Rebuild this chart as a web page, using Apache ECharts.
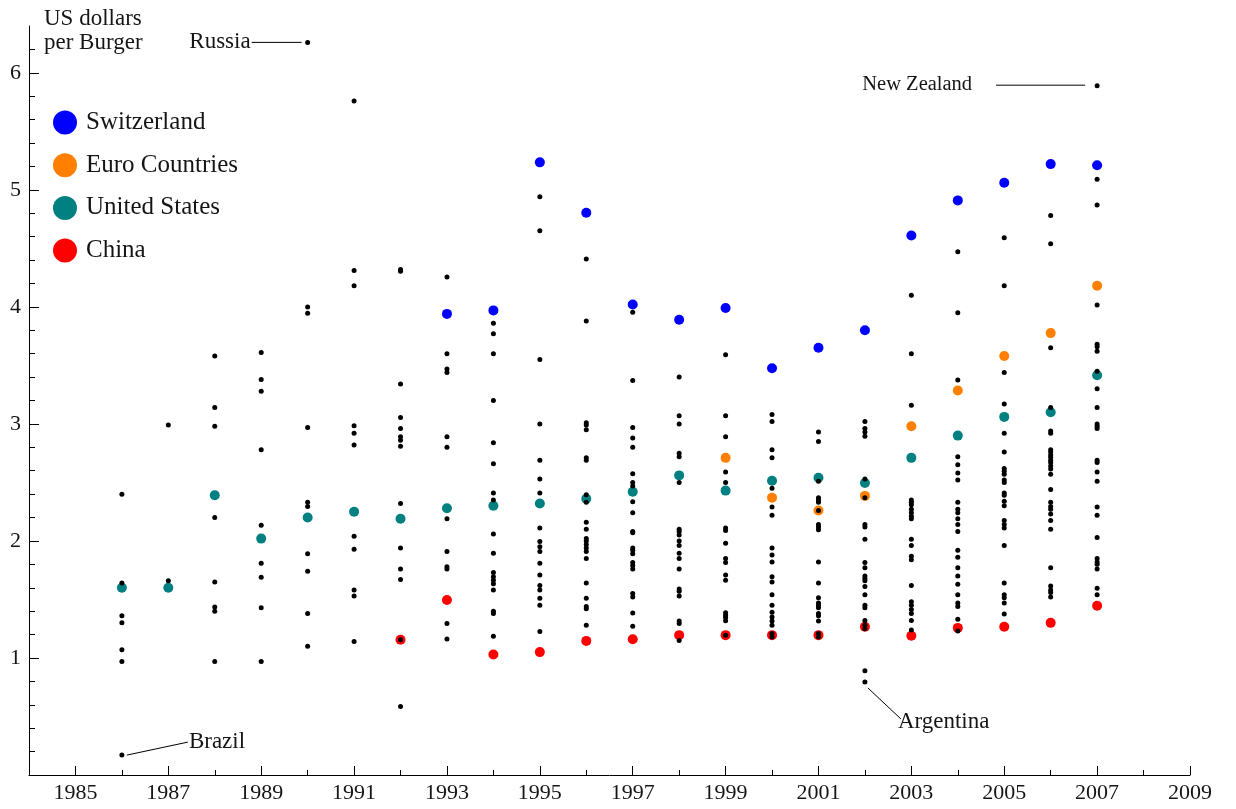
<!DOCTYPE html>
<html>
<head>
<meta charset="utf-8">
<title>Big Mac prices</title>
<script src="https://cdn.jsdelivr.net/npm/echarts@6/dist/echarts.min.js"></script>
<style>
  html, body { margin: 0; padding: 0; background: #fff; }
  #chart { width: 1236px; height: 809px; }
</style>
</head>
<body>
<div id="chart"></div>
<script>
// Burger price in US dollars, one column of countries per survey year
const years = [1986, 1987, 1988, 1989, 1990, 1991, 1992, 1993, 1994, 1995, 1996,
               1997, 1998, 1999, 2000, 2001, 2002, 2003, 2004, 2005, 2006, 2007];

const otherCountries = [
  [2.40, 1.64, 1.36, 1.30, 1.07, 0.97, 0.17],
  [2.99, 1.66],
  [3.58, 3.14, 2.98, 2.20, 1.65, 1.435, 1.40, 0.97],
  [3.61, 3.38, 3.28, 2.78, 2.135, 1.81, 1.69, 1.43, 0.97],
  [6.26, 4.00, 3.945, 2.97, 2.33, 2.295, 1.89, 1.74, 1.38, 1.10],
  [5.76, 4.31, 4.18, 2.985, 2.92, 2.82, 2.04, 1.93, 1.58, 1.53, 1.14],
  [4.32, 4.305, 3.34, 3.055, 2.96, 2.89, 2.86, 2.81, 2.32, 1.94, 1.76, 1.67, 1.155, 0.585],
  [4.256, 3.60, 3.47, 3.44, 2.89, 2.80, 2.19, 1.91, 1.78, 1.76, 1.295, 1.163],
  [3.86, 3.77, 3.60, 3.20, 2.84, 2.66, 2.41, 2.35, 2.06, 1.895, 1.73, 1.695, 1.665, 1.635, 1.58, 1.40, 1.38, 1.186],
  [4.94, 4.65, 3.55, 3.00, 2.69, 2.53, 2.41, 2.11, 1.995, 1.95, 1.91, 1.81, 1.71, 1.62, 1.58, 1.51, 1.45, 1.226],
  [4.41, 3.88, 3.01, 2.99, 2.95, 2.71, 2.69, 2.395, 2.33, 2.16, 2.10, 2.02, 2.00, 1.97, 1.94, 1.91, 1.85, 1.64, 1.51, 1.44, 1.42, 1.28],
  [3.955, 3.37, 2.97, 2.88, 2.80, 2.575, 2.50, 2.47, 2.335, 2.24, 2.08, 2.07, 1.94, 1.92, 1.89, 1.815, 1.79, 1.76, 1.55, 1.52, 1.385, 1.27],
  [3.40, 3.07, 3.00, 2.75, 2.72, 2.50, 2.10, 2.08, 2.05, 2.00, 1.96, 1.895, 1.85, 1.76, 1.59, 1.57, 1.53, 1.315, 1.295, 1.15],
  [3.59, 3.07, 2.89, 2.59, 2.50, 2.11, 2.09, 1.98, 1.85, 1.815, 1.71, 1.665, 1.386, 1.366, 1.346, 1.317, 1.195],
  [3.08, 3.02, 2.78, 2.71, 2.45, 2.29, 2.22, 1.94, 1.88, 1.82, 1.695, 1.65, 1.54, 1.45, 1.39, 1.35, 1.315, 1.28, 1.21, 1.18],
  [2.93, 2.85, 2.51, 2.37, 2.35, 2.33, 2.26, 2.14, 2.12, 2.095, 1.82, 1.64, 1.515, 1.47, 1.45, 1.43, 1.38, 1.36, 1.315, 1.21, 1.18],
  [3.02, 2.96, 2.93, 2.895, 2.53, 2.37, 2.14, 2.12, 2.015, 1.815, 1.77, 1.70, 1.68, 1.66, 1.61, 1.54, 1.45, 1.43, 1.32, 1.28, 1.25, 0.89, 0.795],
  [4.10, 3.60, 3.16, 2.35, 2.33, 2.31, 2.27, 2.24, 2.21, 2.19, 2.015, 1.96, 1.87, 1.84, 1.62, 1.48, 1.45, 1.415, 1.38, 1.32, 1.24],
  [4.47, 3.95, 3.375, 2.72, 2.65, 2.58, 2.52, 2.33, 2.27, 2.24, 2.19, 2.14, 2.08, 1.92, 1.86, 1.77, 1.70, 1.63, 1.54, 1.47, 1.44, 1.33, 1.23],
  [4.59, 4.18, 3.44, 3.17, 2.92, 2.76, 2.62, 2.595, 2.57, 2.52, 2.50, 2.41, 2.39, 2.34, 2.30, 2.175, 2.14, 2.11, 1.96, 1.64, 1.54, 1.515, 1.47, 1.375],
  [4.78, 4.54, 3.65, 3.14, 2.94, 2.92, 2.78, 2.76, 2.735, 2.715, 2.69, 2.67, 2.64, 2.615, 2.57, 2.44, 2.33, 2.295, 2.27, 2.23, 2.175, 2.10, 1.77, 1.615, 1.58, 1.56, 1.52],
  [5.89, 5.09, 4.87, 4.016, 3.68, 3.66, 3.62, 3.45, 3.30, 3.14, 3.00, 2.98, 2.96, 2.69, 2.67, 2.59, 2.51, 2.29, 2.22, 2.03, 1.85, 1.82, 1.80, 1.76, 1.595, 1.54]
];

const switzerlandYears = [1993, 1994, 1995, 1996, 1997, 1998, 1999, 2000, 2001, 2002, 2003, 2004, 2005, 2006, 2007];
const switzerland      = [3.94, 3.97, 5.235, 4.805, 4.02, 3.89, 3.99, 3.475, 3.65, 3.80, 4.61, 4.91, 5.06, 5.22, 5.21];

const euroYears = [1999, 2000, 2001, 2002, 2003, 2004, 2005, 2006, 2007];
const euro      = [2.71, 2.37, 2.26, 2.385, 2.98, 3.285, 3.58, 3.776, 4.18];

const unitedStatesYears = years;
const unitedStates = [1.60, 1.60, 2.39, 2.02, 2.20, 2.25, 2.19, 2.28, 2.30, 2.32, 2.36,
                      2.42, 2.56, 2.43, 2.515, 2.54, 2.495, 2.71, 2.90, 3.06, 3.10, 3.416];

const chinaYears = [1992, 1993, 1994, 1995, 1996, 1997, 1998, 1999, 2000, 2001, 2002, 2003, 2004, 2005, 2006, 2007];
const china      = [1.155, 1.495, 1.03, 1.05, 1.146, 1.16, 1.195, 1.195, 1.195, 1.195, 1.266, 1.19, 1.257, 1.266, 1.30, 1.446];

const xTickLabels = [1985, 1987, 1989, 1991, 1993, 1995, 1997, 1999, 2001, 2003, 2005, 2007, 2009];
const xMinorTicks = [1986, 1988, 1990, 1992, 1994, 1996, 1998, 2000, 2002, 2004, 2006, 2008];
const yTickLabels = [1, 2, 3, 4, 5, 6];

// Countries called out by name
const namedCountries = [
  { name: 'Russia',      year: 1990, value: 6.26 },
  { name: 'New Zealand', year: 2007, value: 5.89 },
  { name: 'Brazil',      year: 1986, value: 0.17 },
  { name: 'Argentina',   year: 2002, value: 0.795 }
];

const FONT = '"Liberation Serif", "Times New Roman", serif';
const INK = '#151515';

const pairs = (xs, ys) => xs.map((x, i) => [x, ys[i]]);
const otherPoints = [];
years.forEach((y, i) => otherCountries[i].forEach(v => otherPoints.push([y, v])));

const yMinorTicks = [];
for (let i = 1; i <= 31; i++) yMinorTicks.push(Math.round(i * 2) / 10);

const chart = echarts.init(document.getElementById('chart'), null, { renderer: 'canvas' });

const colored = (name, color, data) => ({
  name, type: 'scatter', data, symbol: 'circle', symbolSize: 10,
  itemStyle: { color, opacity: 1 }, z: 2, silent: true
});

chart.setOption({
  animation: false,
  backgroundColor: '#fff',
  grid: { left: 29, right: 46, top: 26, bottom: 34, containLabel: false, outerBoundsMode: 'none' },
  xAxis: [
    {
      type: 'value', min: 1984, max: 2009, position: 'bottom',
      axisLine: { show: true, lineStyle: { color: '#000', width: 1 } },
      axisTick: { show: true, inside: true, length: 9, customValues: xTickLabels, lineStyle: { color: '#000' } },
      axisLabel: { customValues: xTickLabels, formatter: v => String(v), fontFamily: FONT, fontSize: 22, color: INK, margin: 7 },
      splitLine: { show: false }
    },
    {
      type: 'value', min: 1984, max: 2009, position: 'bottom', offset: 0,
      axisLine: { show: false },
      axisTick: { show: true, inside: true, length: 5, customValues: xMinorTicks, lineStyle: { color: '#000' } },
      axisLabel: { show: false },
      splitLine: { show: false }
    }
  ],
  yAxis: [
    {
      type: 'value', min: 0, max: 6.4, position: 'left',
      axisLine: { show: true, lineStyle: { color: '#000', width: 1 } },
      axisTick: { show: true, inside: true, length: 10, customValues: yTickLabels, lineStyle: { color: '#000' } },
      axisLabel: { customValues: yTickLabels, formatter: v => String(v), fontFamily: FONT, fontSize: 22, color: INK, margin: 8 },
      splitLine: { show: false }
    },
    {
      type: 'value', min: 0, max: 6.4, position: 'left', offset: 0,
      axisLine: { show: false },
      axisTick: { show: true, inside: true, length: 6, customValues: yMinorTicks, lineStyle: { color: '#000' } },
      axisLabel: { show: false },
      splitLine: { show: false }
    }
  ],
  legend: {
    data: ['Switzerland', 'Euro Countries', 'United States', 'China'],
    orient: 'vertical', left: 48, top: 105,
    itemWidth: 24, itemHeight: 24, itemGap: 17.7,
    icon: 'circle',
    selectedMode: false,
    textStyle: { fontFamily: FONT, fontSize: 25, color: INK, padding: [0, 0, 0, 4] }
  },
  series: [
    colored('Switzerland', '#0000ff', pairs(switzerlandYears, switzerland)),
    colored('Euro Countries', '#ff8000', pairs(euroYears, euro)),
    colored('United States', '#008080', pairs(unitedStatesYears, unitedStates)),
    colored('China', '#ff0000', pairs(chinaYears, china)),
    {
      name: 'All countries', type: 'scatter', data: otherPoints,
      symbol: 'circle', symbolSize: 5, itemStyle: { color: '#000', opacity: 1 }, z: 3, silent: true
    }
  ]
});

// Leader lines and names for the called-out countries, placed relative to their dots
const calloutLayout = {
  'Russia':      { line: [[-56, 0], [-6, 0]],   text: [-57, 0],  align: 'right', size: 23 },
  'New Zealand': { line: [[-101, -0.5], [-12, -0.5]], text: [-125, -1], align: 'right', size: 20.5 },
  'Brazil':      { line: [[5, 0], [66, -13]],   text: [67, -13], align: 'left',  size: 23 },
  'Argentina':   { line: [[3, 6], [36, 37]],    text: [33, 40],  align: 'left',  size: 23 }
};

const graphics = [
  { type: 'text', left: 44, top: 7, style: { text: 'US dollars', font: '23px ' + FONT, fill: INK } },
  { type: 'text', left: 44, top: 31, style: { text: 'per Burger', font: '23px ' + FONT, fill: INK } }
];
namedCountries.forEach(c => {
  const p = chart.convertToPixel({ xAxisIndex: 0, yAxisIndex: 0 }, [c.year, c.value]);
  const l = calloutLayout[c.name];
  graphics.push({
    type: 'line', silent: true,
    shape: { x1: p[0] + l.line[0][0], y1: p[1] + l.line[0][1], x2: p[0] + l.line[1][0], y2: p[1] + l.line[1][1] },
    style: { stroke: '#000', lineWidth: 1 }
  });
  graphics.push({
    type: 'text', silent: true,
    x: p[0] + l.text[0], y: p[1] + l.text[1],
    style: { text: c.name, font: l.size + 'px ' + FONT, fill: INK, align: l.align, verticalAlign: 'middle' }
  });
});
chart.setOption({ graphic: graphics });
</script>
</body>
</html>
